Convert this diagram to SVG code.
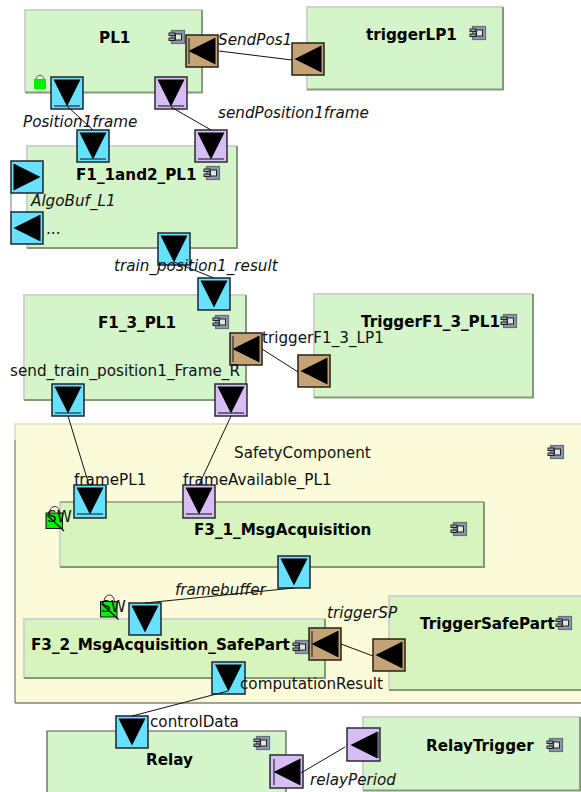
<svg xmlns="http://www.w3.org/2000/svg" xmlns:xlink="http://www.w3.org/1999/xlink" width="581" height="792" viewBox="0 0 581 792">
<style>
text{font-family:"DejaVu Sans",sans-serif;font-size:15.2px;fill:#111}
.t{font-weight:bold;fill:#000}
.i{font-style:italic}
.b{fill:#d4f4c9;stroke:none}
.hl{stroke:#cfd3cd;stroke-width:2;fill:none}
.sd{stroke:#83997c;stroke-width:2;fill:none}
.blue{fill:#66e2ff;stroke:#1c2430;stroke-width:1.5}
.pur{fill:#d8bdf5;stroke:#2a2a35;stroke-width:1.5}
.brn{fill:#c4a376;stroke:#262018;stroke-width:1.5}
.bar{stroke:#2a3a40;stroke-width:1.3}
#connectors line{stroke:#111;stroke-width:1}
</style>
<defs>
<g id="icon"><rect x="2.500" y="0.500" width="13" height="13" fill="#8b98ad" stroke="#666f80" stroke-width="1.200"/><rect x="6.500" y="4" width="6" height="6" fill="#dfe8d8" stroke="#222" stroke-width="1"/><rect x="0" y="3" width="6" height="2.500" fill="#9aa5b5" stroke="#222" stroke-width="1"/><rect x="0" y="8" width="6" height="2.500" fill="#9aa5b5" stroke="#222" stroke-width="1"/></g>
<polygon id="d" points="2.500,2.500 29.500,2.500 16,29.500"/>
<polygon id="l" points="29.500,2.500 29.500,29.500 2.500,16"/>
<polygon id="r" points="2.500,2.500 2.500,29.500 29.500,16"/>
<g id="lock"><rect x="0" y="7" width="16.500" height="15.500" fill="#00f000" stroke="#111" stroke-width="1"/><path d="M3.500 8C3.500 -2 14 -2 14 8" fill="none" stroke="#222" stroke-width="1"/><line x1="1" y1="9" x2="18" y2="25" stroke="#111" stroke-width="1.200"/></g>
</defs>

<g id="SafetyComponent">
<rect x="15" y="424" width="567" height="279" fill="#fbfbd9"/>
<path d="M15 703V424H581" fill="none" stroke="#cfcfb0" stroke-width="1.200"/>
<path d="M15 703H581" fill="none" stroke="#444" stroke-width="1.200"/>
<path d="M15 440V703" fill="none" stroke="#777" stroke-width="1"/>
<text x="234" y="458">SafetyComponent</text>
<use href="#icon" x="548" y="445"/>
</g>

<g id="PL1">
<rect class="b" x="25" y="9" width="177" height="83"/>
<path class="hl" d="M25 92V10H202"/><path class="sd" d="M25 92.500H202V10"/>
<text class="t" x="99" y="43">PL1</text>
<use href="#icon" x="169" y="30"/>
<rect x="34" y="79" width="12" height="10" fill="#00f000"/>
<path d="M36 79C37 74 43 74 44 79" fill="none" stroke="#333" stroke-width="0.800"/>
</g>

<g id="triggerLP1">
<rect class="b" x="307" y="7" width="196" height="83"/>
<path class="hl" d="M307 90V7H503"/><path class="sd" d="M307 89.500H503V7"/>
<text class="t" x="366" y="40">triggerLP1</text>
<use href="#icon" x="470" y="26"/>
</g>

<g id="F1_1and2_PL1">
<rect x="11" y="193" width="16" height="19" fill="#fff"/>
<line x1="11" y1="193" x2="11" y2="212" stroke="#777"/>
<rect class="b" x="27" y="146" width="210" height="102"/>
<path class="hl" d="M27 248V146H237"/><path class="sd" d="M27 248H237V146"/>
<text class="t" x="76" y="180">F1_1and2_PL1</text>
<use href="#icon" x="204" y="166"/>
<text x="46" y="234">...</text>
</g>

<g id="F1_3_PL1">
<rect class="b" x="24" y="294" width="222" height="106"/>
<path class="hl" d="M24 400V295H246"/><path class="sd" d="M24 400H246V295"/>
<text class="t" x="98" y="328">F1_3_PL1</text>
<use href="#icon" x="213" y="315"/>
</g>

<g id="TriggerF1_3_PL1">
<rect class="b" x="314" y="294" width="219" height="104"/>
<path class="hl" d="M314 398V294H533"/><path class="sd" d="M314 397.500H533V294"/>
<text class="t" x="361" y="327">TriggerF1_3_PL1</text>
<use href="#icon" x="501" y="314"/>
</g>

<g id="F3_1_MsgAcquisition">
<rect x="60" y="502" width="424" height="65" fill="#d6f4bc"/>
<path class="hl" d="M60 567V502"/><path d="M60 502H484" stroke="#8b9a80" stroke-width="1.500" fill="none"/><path class="sd" d="M60 567H484V502"/>
<text class="t" x="194" y="535">F3_1_MsgAcquisition</text>
<use href="#icon" x="451" y="522"/>
<use href="#lock" x="46" y="506"/>
<text x="47" y="522">SW</text>
</g>

<g id="F3_2_MsgAcquisition_SafePart">
<rect x="24" y="619" width="301" height="59" fill="#d6f4bc"/>
<path class="hl" d="M24 678V619H325"/><path class="sd" d="M24 678H325V619"/>
<text class="t" x="31" y="650">F3_2_MsgAcquisition_SafePart</text>
<use href="#icon" x="293" y="640"/>
<use href="#lock" x="100.500" y="594.500"/>
<text x="101" y="612">SW</text>
</g>

<g id="TriggerSafePart">
<rect x="389" y="596" width="193" height="94" fill="#d6f4bc"/>
<path class="hl" d="M389 690V596H581"/><path class="sd" d="M389 690H581"/>
<text class="t" x="420" y="629">TriggerSafePart</text>
<use href="#icon" x="556" y="616"/>
</g>

<g id="Relay">
<rect class="b" x="47" y="731" width="239" height="61"/>
<path d="M47 792V731H286V792" fill="none" stroke="#555" stroke-width="1.200"/>
<text class="t" x="146" y="765">Relay</text>
<use href="#icon" x="254" y="736"/>
</g>

<g id="RelayTrigger">
<rect class="b" x="363" y="717" width="217" height="74"/>
<path class="hl" d="M363 791V717H580"/><path class="sd" d="M363 790.500H580V717"/>
<text class="t" x="426" y="751">RelayTrigger</text>
<use href="#icon" x="547" y="738"/>
</g>

<g id="ports">
<g id="p1"><rect class="blue" x="51" y="77" width="32" height="32"/><use href="#d" x="51" y="77"/><line class="bar" x1="54" y1="106" x2="80" y2="106"/></g>
<g id="p2"><rect class="pur" x="155" y="77" width="32" height="32"/><use href="#d" x="155" y="77"/><line class="bar" x1="158" y1="106" x2="184" y2="106"/></g>
<g id="p3"><rect class="brn" x="186" y="35" width="32" height="32"/><use href="#l" x="186" y="35"/><line class="bar" x1="189" y1="38" x2="189" y2="64"/></g>
<g id="p4"><rect class="brn" x="292" y="43" width="32" height="32"/><use href="#l" x="292" y="43"/></g>
<g id="p5"><rect class="blue" x="77" y="130" width="32" height="32"/><use href="#d" x="77" y="130"/><line class="bar" x1="80" y1="159" x2="106" y2="159"/></g>
<g id="p6"><rect class="pur" x="195" y="130" width="32" height="32"/><use href="#d" x="195" y="130"/><line class="bar" x1="198" y1="159" x2="224" y2="159"/></g>
<g id="p7"><rect class="blue" x="11" y="161" width="32" height="32"/><use href="#r" x="11" y="161"/></g>
<g id="p8"><rect class="blue" x="11" y="212" width="32" height="32"/><use href="#l" x="11" y="212"/></g>
<g id="p9"><rect class="blue" x="158" y="233" width="32" height="32"/><use href="#d" x="158" y="233"/></g>
<g id="p10"><rect class="blue" x="198" y="278" width="32" height="32"/><use href="#d" x="198" y="278"/></g>
<g id="p11"><rect class="brn" x="230" y="333" width="32" height="32"/><use href="#l" x="230" y="333"/><line class="bar" x1="233" y1="336" x2="233" y2="362"/></g>
<g id="p12"><rect class="brn" x="298" y="355" width="32" height="32"/><use href="#l" x="298" y="355"/></g>
<g id="p13"><rect class="blue" x="52" y="384" width="32" height="32"/><use href="#d" x="52" y="384"/><line class="bar" x1="55" y1="413" x2="81" y2="413"/></g>
<g id="p14"><rect class="pur" x="215" y="384" width="32" height="32"/><use href="#d" x="215" y="384"/><line class="bar" x1="218" y1="413" x2="244" y2="413"/></g>
<g id="p15"><rect class="blue" x="74" y="485" width="32" height="33"/><use href="#d" x="74" y="485"/><line class="bar" x1="77" y1="514" x2="103" y2="514"/></g>
<g id="p16"><rect class="pur" x="183" y="485" width="32" height="33"/><use href="#d" x="183" y="485"/><line class="bar" x1="186" y1="514" x2="212" y2="514"/></g>
<g id="p17"><rect class="blue" x="278" y="556" width="32" height="32"/><use href="#d" x="278" y="556"/></g>
<g id="p18"><rect class="blue" x="129" y="603" width="32" height="32"/><use href="#d" x="129" y="603"/></g>
<g id="p19"><rect class="blue" x="212" y="662" width="33" height="32"/><use href="#d" x="212.500" y="662"/></g>
<g id="p20"><rect class="blue" x="116" y="716" width="32" height="32"/><use href="#d" x="116" y="716"/></g>
<g id="p21"><rect class="brn" x="309" y="628" width="32" height="32"/><use href="#l" x="309" y="628"/><line class="bar" x1="312" y1="631" x2="312" y2="657"/></g>
<g id="p22"><rect class="brn" x="373" y="639" width="32" height="32"/><use href="#l" x="373" y="639"/></g>
<g id="p23"><rect class="pur" x="270" y="755" width="33" height="33"/><use href="#l" x="271" y="756"/><line class="bar" x1="274" y1="759" x2="274" y2="785"/></g>
<g id="p24"><rect class="pur" x="347" y="728" width="33" height="33"/><use href="#l" x="348" y="729"/><line class="bar" x1="378" y1="732" x2="378" y2="758"/></g>
</g>

<g id="connectors">
<line x1="219" y1="51" x2="292" y2="60"/>
<line x1="67" y1="106" x2="93" y2="130"/>
<line x1="171" y1="107" x2="211" y2="130"/>
<line x1="174" y1="262" x2="214" y2="278"/>
<line x1="262" y1="349" x2="298" y2="372"/>
<line x1="68" y1="416" x2="89" y2="485"/>
<line x1="231" y1="416" x2="199" y2="485"/>
<line x1="294" y1="588" x2="145" y2="603"/>
<line x1="228" y1="691" x2="132" y2="716"/>
<line x1="341" y1="644" x2="373" y2="656"/>
<line x1="301" y1="773" x2="345" y2="747"/>
</g>

<g id="labels">
<text class="i" x="218" y="45">SendPos1</text>
<text class="i" x="23" y="127">Position1frame</text>
<text class="i" x="218" y="118">sendPosition1frame</text>
<text class="i" x="31" y="206">AlgoBuf_L1</text>
<text class="i" x="114" y="271">train_position1_result</text>
<text x="262" y="343">triggerF1_3_LP1</text>
<text x="10" y="376">send_train_position1_Frame_R</text>
<text x="74" y="485">framePL1</text>
<text x="183" y="485">frameAvailable_PL1</text>
<text class="i" x="175" y="595">framebuffer</text>
<text class="i" x="327" y="618">triggerSP</text>
<text x="240" y="689">computationResult</text>
<text x="150" y="727">controlData</text>
<text class="i" x="310" y="785">relayPeriod</text>
</g>
</svg>
